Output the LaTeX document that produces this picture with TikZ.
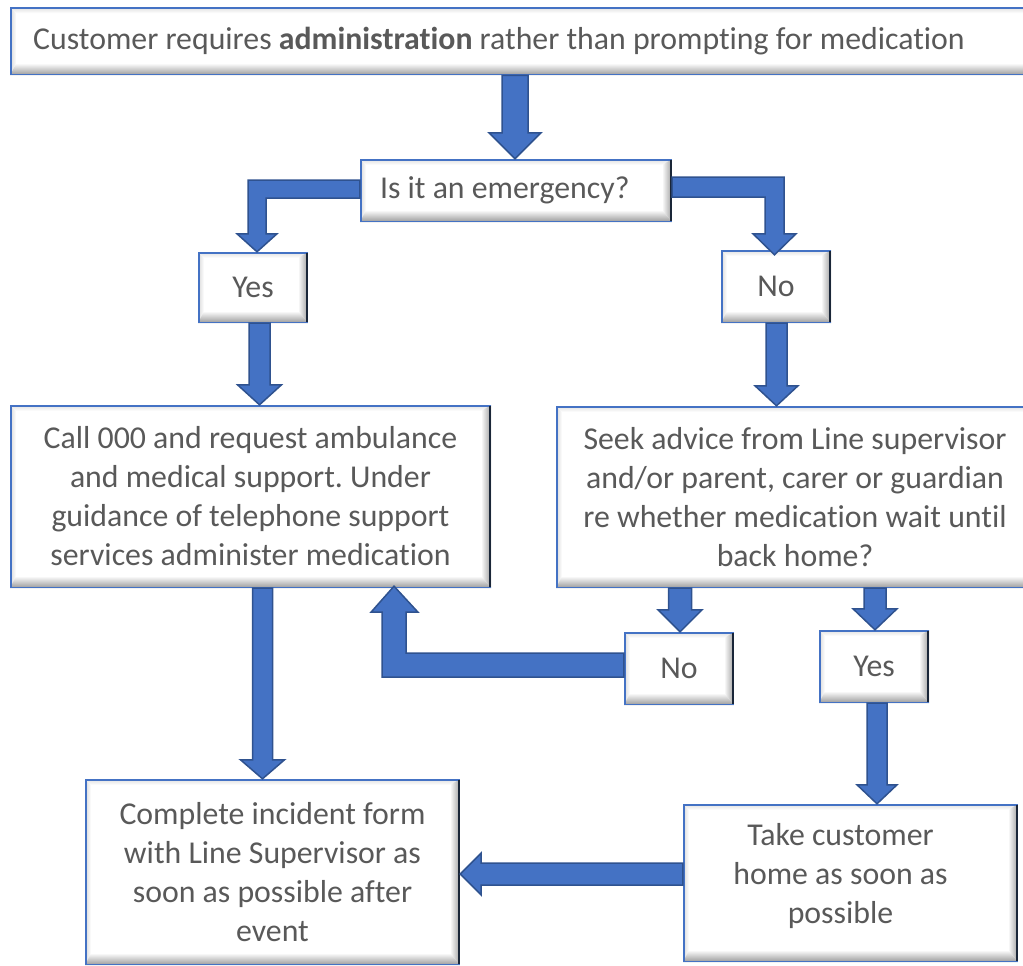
\documentclass[tikz,border=0pt]{standalone}
\usepackage{fontspec}
\setmainfont{Carlito}[Ligatures={NoCommon}]
\frenchspacing
\usetikzlibrary{calc}
\definecolor{arrfill}{HTML}{4472C4}
\definecolor{arrline}{HTML}{2F528F}
\definecolor{boxblue}{HTML}{4472C4}
\definecolor{txt}{HTML}{595959}
\definecolor{edgedark}{HTML}{1A2638}
\tikzset{
 blk/.style={fill=arrfill, draw=arrline, line width=1.5pt, line join=miter},
 box/.style={inner sep=0pt, align=center, text=txt, fill=white,
   font=\fontsize{31.8}{39}\selectfont,
   path picture={
     \coordinate (SW) at (path picture bounding box.south west);
     \coordinate (NE) at (path picture bounding box.north east);
     \shade[left color=gray!30, right color=white] let \p1=(SW), \p2=(NE) in
       (\x1,\y1) -- (\x1,\y2) -- (\x1+6pt,\y2-6pt) -- (\x1+6pt,\y1+12pt) -- cycle;
     \shade[top color=gray!25, bottom color=white] let \p1=(SW), \p2=(NE) in
       (\x1,\y2) -- (\x2,\y2) -- (\x2-10pt,\y2-6pt) -- (\x1+6pt,\y2-6pt) -- cycle;
     \shade[left color=white, right color=gray!75] let \p1=(SW), \p2=(NE) in
       (\x2,\y1) -- (\x2,\y2) -- (\x2-10pt,\y2-6pt) -- (\x2-10pt,\y1+12pt) -- cycle;
     \shade[top color=white, bottom color=gray!80] let \p1=(SW), \p2=(NE) in
       (\x1,\y1) -- (\x2,\y1) -- (\x2-10pt,\y1+12pt) -- (\x1+6pt,\y1+12pt) -- cycle;
     \draw[boxblue, line width=1.5pt] let \p1=(SW), \p2=(NE) in
       (\x1+0.75pt,\y1+0.75pt) rectangle (\x2-0.75pt,\y2-0.75pt);
     \draw[edgedark, line width=2pt] let \p1=(SW), \p2=(NE) in
       (\x2-1pt,\y1+1pt) -- (\x2-1pt,\y2-1pt);
   }}
}
\newcommand{\dnblk}[6]{\filldraw[blk] let \p1=#1, \p2=#2 in
  (#3pt-#4pt,\y1) -- (#3pt-#4pt,\y2+#6pt) -- (#3pt-#5pt,\y2+#6pt) -- (#3pt,\y2)
  -- (#3pt+#5pt,\y2+#6pt) -- (#3pt+#4pt,\y2+#6pt) -- (#3pt+#4pt,\y1) -- cycle;}
\begin{document}
\begin{tikzpicture}[x=1pt,y=-1pt]
\useasboundingbox (0,0) rectangle (1023,966);

\node[box, minimum width=1040pt, minimum height=68pt, text width=994pt, inner xsep=23pt, align=flush left, anchor=north west] (top) at (10,7) {Customer requires \textbf{administration} rather than prompting for medication};
\node[box, minimum width=312pt, minimum height=63pt, text width=272pt, inner xsep=20pt, align=flush left] (emerg) at (516,190.5) {Is it an emergency?};
\node[box, minimum width=110pt, minimum height=71pt] (yesL) at (253,287.5) {Yes};
\node[box, minimum width=110pt, minimum height=73pt] (noR) at (776,286.5) {No};
\node[box, minimum width=481pt, minimum height=183pt] (call) at (250.5,496.5) {Call 000 and request ambulance\\and medical support. Under\\guidance of telephone support\\services administer medication};
\node[box, minimum width=478pt, minimum height=182pt] (seek) at (795,497) {Seek advice from Line supervisor\\and/or parent, carer or guardian\\re whether medication wait until\\back home?};
\node[box, minimum width=110pt, minimum height=73pt] (noB) at (679,668.5) {No};
\node[box, minimum width=110pt, minimum height=73pt] (yesB) at (874,666.5) {Yes};
\node[box, minimum width=375pt, minimum height=186pt] (complete) at (272.5,872) {Complete incident form\\with Line Supervisor as\\soon as possible after\\event};
\node[box, minimum width=335pt, minimum height=158pt, align=none] (take) at (850.5,883) {\hspace*{-20pt}\raisebox{6pt}[\height][\depth]{\begin{tabular}{@{}c@{}}Take customer\\home as soon as\\possible\end{tabular}}};

% straight down arrows
\dnblk{(top.south)}{(emerg.north)}{515}{13}{26}{26}
\dnblk{(yesL.south)}{(call.north)}{259.5}{10.5}{22}{20}
\dnblk{(noR.south)}{(seek.north)}{776.5}{10.5}{21.5}{20}
\dnblk{(seek.south)}{(noB.north)}{680}{11.5}{22}{22}
\dnblk{(seek.south)}{(yesB.north)}{875}{11}{22}{21}
\dnblk{(call.south)}{(complete.north)}{262.5}{10}{22}{19}
\dnblk{(yesB.south)}{(take.north)}{877}{10}{20}{19}

% elbow: emergency -> Yes
\filldraw[blk] let \p1=(emerg.west), \p2=(yesL.north) in
  (\x1,\y1+10.5pt) -- (248pt,\y1+10.5pt) -- (248pt,\y2+18pt) -- (237pt,\y2+18pt) -- (257pt,\y2)
  -- (277pt,\y2+18pt) -- (266pt,\y2+18pt) -- (266pt,\y1-7.5pt) -- (\x1,\y1-7.5pt) -- cycle;
% elbow: emergency -> No
\filldraw[blk] let \p1=(emerg.east), \p2=(noR.north) in
  (\x1,\y1+13.5pt) -- (784pt,\y1+13.5pt) -- (784pt,\y2+16pt) -- (796pt,\y2+16pt) -- (774.5pt,\y2-5pt)
  -- (753pt,\y2+16pt) -- (765pt,\y2+16pt) -- (765pt,\y1-6.5pt) -- (\x1,\y1-6.5pt) -- cycle;
% elbow: No -> Call
\filldraw[blk] let \p1=(noB.west), \p2=(call.south) in
  (\x1,\y1+15.5pt) -- (406pt,\y1+15.5pt) -- (406pt,\y2-24pt) -- (418pt,\y2-24pt) -- (394pt,\y2+2pt)
  -- (371pt,\y2-24pt) -- (382pt,\y2-24pt) -- (382pt,\y1-8.5pt) -- (\x1,\y1-8.5pt) -- cycle;
% Take -> Complete
\filldraw[blk] let \p1=(take.west), \p2=(complete.east) in
  (\x1,\y1+20pt) -- (\x2+21pt,\y1+20pt) -- (\x2+21pt,\y1+30pt) -- (\x2,\y1+9pt)
  -- (\x2+21pt,\y1-12pt) -- (\x2+21pt,\y1-2pt) -- (\x1,\y1-2pt) -- cycle;
\end{tikzpicture}
\end{document}
